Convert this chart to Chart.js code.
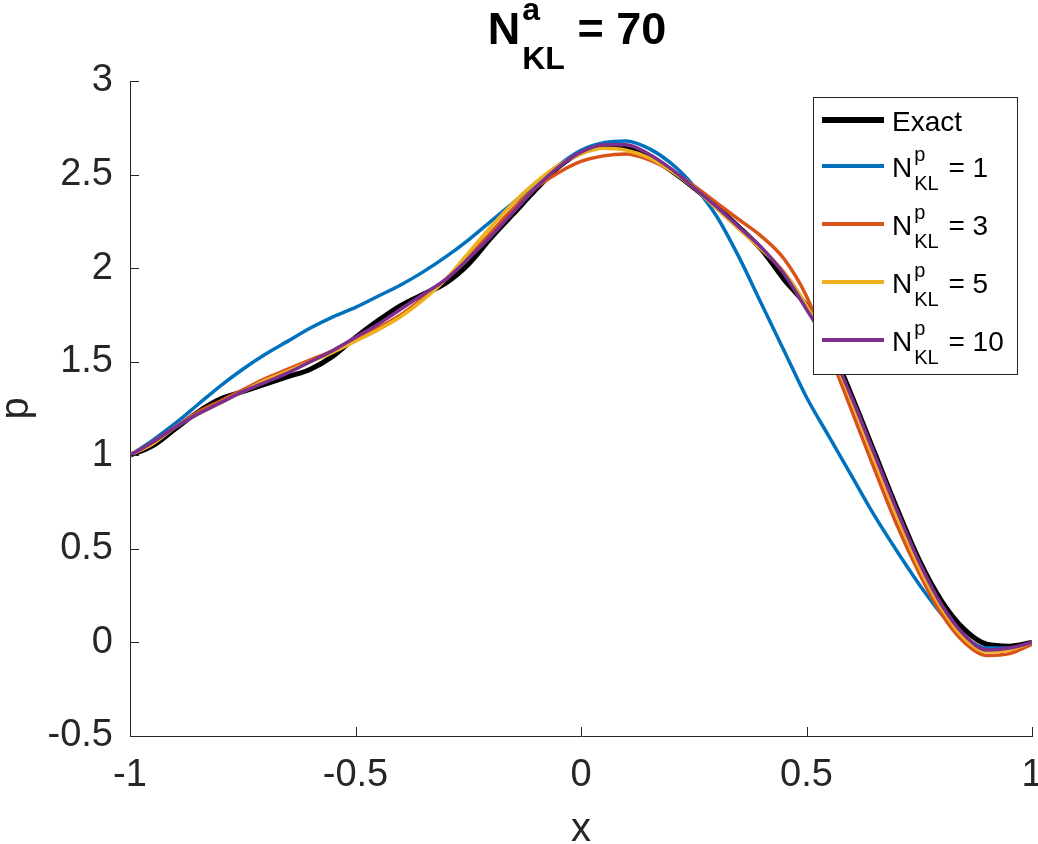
<!DOCTYPE html>
<html>
<head>
<meta charset="utf-8">
<script src="https://cdn.jsdelivr.net/npm/chart.js@4/dist/chart.umd.min.js"></script>
<style>
  html, body { margin: 0; padding: 0; background: #ffffff; }
  #wrap { width: 1038px; height: 844px; position: relative; }
</style>
</head>
<body>
<div id="wrap"><canvas id="c" width="1038" height="844"></canvas></div>
<script>
// ---- data ----
const xValues = [-1.00,-0.95,-0.90,-0.85,-0.80,-0.75,-0.70,-0.65,-0.60,-0.55,-0.50,-0.45,-0.40,-0.35,-0.30,-0.25,-0.20,-0.15,-0.10,-0.05,0.00,0.05,0.10,0.15,0.20,0.25,0.30,0.35,0.40,0.45,0.50,0.55,0.60,0.65,0.70,0.75,0.80,0.85,0.90,0.95,1.00];

const exactValues = [1.00,1.05,1.14,1.23,1.30,1.34,1.38,1.42,1.46,1.53,1.63,1.72,1.80,1.86,1.92,2.02,2.16,2.29,2.42,2.54,2.62,2.65,2.64,2.60,2.52,2.43,2.33,2.22,2.10,1.94,1.80,1.60,1.32,1.02,0.72,0.44,0.22,0.07,-0.01,-0.02,0.00];

const kl1Values = [1.00,1.08,1.17,1.27,1.37,1.46,1.54,1.61,1.68,1.74,1.79,1.85,1.91,1.98,2.06,2.15,2.25,2.35,2.45,2.55,2.63,2.67,2.68,2.64,2.56,2.44,2.28,2.06,1.81,1.56,1.31,1.10,0.89,0.68,0.49,0.31,0.15,0.03,-0.03,-0.03,0.00];

const kl3Values = [1.00,1.07,1.15,1.23,1.29,1.35,1.41,1.46,1.51,1.56,1.62,1.68,1.75,1.84,1.94,2.06,2.19,2.32,2.43,2.51,2.57,2.60,2.61,2.58,2.52,2.44,2.35,2.26,2.17,2.05,1.85,1.55,1.24,0.93,0.63,0.37,0.15,0.00,-0.07,-0.06,-0.01];

const kl5Values = [1.00,1.06,1.15,1.22,1.28,1.34,1.40,1.45,1.50,1.55,1.61,1.67,1.74,1.83,1.94,2.08,2.22,2.35,2.46,2.55,2.61,2.64,2.63,2.59,2.52,2.43,2.32,2.21,2.10,1.98,1.80,1.57,1.29,0.98,0.68,0.40,0.18,0.02,-0.05,-0.04,0.00];

const kl10Values = [1.00,1.07,1.15,1.22,1.28,1.34,1.39,1.44,1.50,1.56,1.63,1.70,1.78,1.86,1.94,2.05,2.17,2.30,2.43,2.54,2.62,2.66,2.66,2.61,2.53,2.43,2.33,2.22,2.11,1.97,1.78,1.58,1.31,1.01,0.71,0.43,0.20,0.04,-0.04,-0.03,0.00];

const xTicks = [-1, -0.5, 0, 0.5, 1];
const yTicks = [-0.5, 0, 0.5, 1, 1.5, 2, 2.5, 3];

const seriesNames = ['Exact', '1', '3', '5', '10'];
const seriesColors = ['#000000', '#0072BD', '#D95319', '#EDB120', '#7E2F8E'];

// ---- helpers ----
const toPoints = ys => xValues.map((x, i) => ({ x: x, y: ys[i] }));
const TEXT = '#262626';
const FONT = '"Liberation Sans", Arial, Helvetica, sans-serif';

function mkDataset(label, ys, color, width, order) {
  return {
    label: label,
    data: toPoints(ys),
    borderColor: color,
    backgroundColor: color,
    borderWidth: width,
    pointRadius: 0,
    pointHoverRadius: 0,
    fill: false,
    cubicInterpolationMode: 'monotone',
    order: order
  };
}

const decorPlugin = {
  id: 'decor',
  afterDraw(chart) {
    const ctx = chart.ctx;
    const xs = chart.scales.x, ys = chart.scales.y;
    const a = chart.chartArea;
    ctx.save();
    // inward tick marks
    ctx.strokeStyle = TEXT;
    ctx.lineWidth = 1;
    const tl = 9;
    xTicks.forEach(v => {
      const px = Math.round(xs.getPixelForValue(v)) + 0.5;
      ctx.beginPath(); ctx.moveTo(px, a.bottom); ctx.lineTo(px, a.bottom - tl); ctx.stroke();
    });
    yTicks.forEach(v => {
      const py = Math.round(ys.getPixelForValue(v)) + 0.5;
      ctx.beginPath(); ctx.moveTo(a.left, py); ctx.lineTo(a.left + tl, py); ctx.stroke();
    });

    // title  N^a_KL = 70
    ctx.fillStyle = '#000000';
    ctx.textBaseline = 'alphabetic';
    ctx.textAlign = 'left';
    const tBig = 'bold 45px ' + FONT, tSmall = 'bold 32px ' + FONT;
    ctx.font = tBig; const wN = ctx.measureText('N').width; const wEq = ctx.measureText(' = 70').width;
    ctx.font = tSmall; const wSup = ctx.measureText('a').width; const wSub = ctx.measureText('KL').width;
    const wScript = Math.max(wSup, wSub);
    const total = wN + 2 + wScript + wEq;
    let tx = (a.left + a.right) / 2 - total / 2 - 4;
    const base = 44;
    ctx.font = tBig; ctx.fillText('N', tx, base);
    ctx.font = tSmall; ctx.fillText('a', tx + wN + 2, base - 24); ctx.fillText('KL', tx + wN + 2, base + 25);
    ctx.font = tBig; ctx.fillText(' = 70', tx + wN + 2 + wScript, base);

    // axis labels
    ctx.fillStyle = TEXT;
    ctx.font = '40px ' + FONT;
    ctx.textAlign = 'center';
    ctx.textBaseline = 'alphabetic';
    ctx.fillText('x', (a.left + a.right) / 2, 841);
    ctx.save();
    ctx.translate(28, (a.top + a.bottom) / 2);
    ctx.rotate(-Math.PI / 2);
    ctx.fillText('p', 0, 0);
    ctx.restore();

    // legend
    const lx = 813.5, ly = 97.5, lw = 204, lh = 277;
    ctx.fillStyle = '#ffffff';
    ctx.fillRect(lx, ly, lw, lh);
    ctx.strokeStyle = '#262626';
    ctx.lineWidth = 1;
    ctx.strokeRect(lx, ly, lw, lh);
    const rowsY = [120, 166, 224, 282, 340];
    const big = '28px ' + FONT, small = '20px ' + FONT;
    rowsY.forEach((ry, i) => {
      ctx.strokeStyle = seriesColors[i];
      ctx.lineWidth = i === 0 ? 6 : 4;
      ctx.beginPath(); ctx.moveTo(822, ry); ctx.lineTo(884, ry); ctx.stroke();
      ctx.fillStyle = '#000000';
      ctx.textAlign = 'left';
      ctx.textBaseline = 'alphabetic';
      if (i === 0) {
        ctx.font = big; ctx.fillText(seriesNames[i], 892, ry + 11);
      } else {
        const b = ry + 11;
        ctx.font = big; ctx.fillText('N', 892, b);
        const w = ctx.measureText('N').width;
        ctx.font = small; ctx.fillText('p', 892 + w + 2, b - 16);
        ctx.fillText('KL', 892 + w + 2, b + 13);
        const ws = Math.max(ctx.measureText('p').width, ctx.measureText('KL').width);
        ctx.font = big; ctx.fillText(' = ' + seriesNames[i], 892 + w + 4 + ws, b);
      }
    });
    ctx.restore();
  }
};

new Chart(document.getElementById('c'), {
  type: 'line',
  data: {
    datasets: [
      mkDataset('Exact', exactValues, seriesColors[0], 5, 5),
      mkDataset('N_KL^p = 1', kl1Values, seriesColors[1], 3.5, 4),
      mkDataset('N_KL^p = 3', kl3Values, seriesColors[2], 3.5, 3),
      mkDataset('N_KL^p = 5', kl5Values, seriesColors[3], 3.5, 2),
      mkDataset('N_KL^p = 10', kl10Values, seriesColors[4], 3.5, 1)
    ]
  },
  options: {
    responsive: false,
    animation: false,
    devicePixelRatio: 1,
    layout: { padding: { top: 81, right: 6, left: 0, bottom: 0 } },
    plugins: { legend: { display: false }, title: { display: false }, tooltip: { enabled: false } },
    scales: {
      x: {
        type: 'linear',
        min: -1, max: 1,
        afterFit: s => { s.height = 108; s.paddingLeft = 0; s.paddingRight = 0; },
        afterBuildTicks: s => { s.ticks = xTicks.map(v => ({ value: v })); },
        ticks: { color: TEXT, font: { family: FONT, size: 38 }, padding: 17, autoSkip: false, maxRotation: 0, callback: v => String(v) },
        grid: { display: false, drawTicks: false },
        border: { display: true, color: TEXT, width: 1 }
      },
      y: {
        type: 'linear',
        min: -0.5, max: 3,
        afterFit: s => { s.width = 130; s.paddingTop = 0; s.paddingBottom = 0; },
        afterBuildTicks: s => { s.ticks = yTicks.map(v => ({ value: v })); },
        ticks: { color: TEXT, font: { family: FONT, size: 38 }, padding: 17, autoSkip: false, callback: v => String(v) },
        grid: { display: false, drawTicks: false },
        border: { display: true, color: TEXT, width: 1 }
      }
    }
  },
  plugins: [decorPlugin]
});
</script>
</body>
</html>
